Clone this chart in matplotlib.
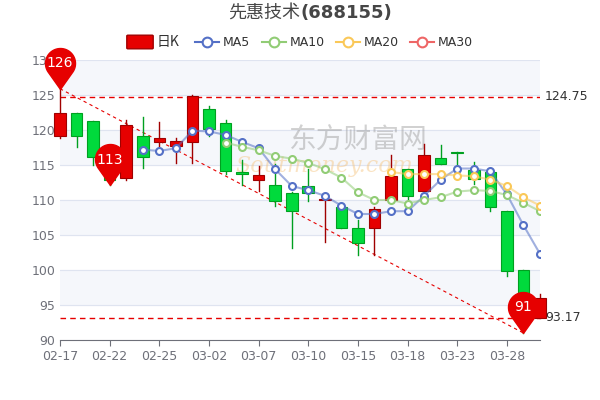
import numpy as np
import matplotlib
matplotlib.use("Agg")
import matplotlib.pyplot as plt
from matplotlib.path import Path
from matplotlib.patches import Rectangle, FancyBboxPatch
from matplotlib.lines import Line2D

dates = ["02-17","02-18","02-21","02-22","02-23","02-24","02-25","02-28","03-01","03-02",
         "03-03","03-04","03-07","03-08","03-09","03-10","03-11","03-14","03-15","03-16",
         "03-17","03-18","03-21","03-22","03-23","03-24","03-25","03-28","03-29","03-30"]
opens  = [119.2,122.4,121.3,114.8,113.1,119.2,118.3,117.7,118.3,123.0,
          121.0,114.0,112.9,112.2,111.0,112.0,110.0,109.0,106.0,106.0,
          110.0,114.4,111.3,116.0,116.8,114.3,114.0,108.4,100.0,93.2]
closes = [122.5,119.2,116.2,112.9,120.7,116.2,118.8,118.4,124.9,120.2,
          114.2,113.7,113.5,109.8,108.5,111.0,110.2,106.0,103.8,108.7,
          113.4,110.6,116.4,115.2,116.7,113.0,109.0,99.9,94.5,96.0]
highs  = [125.9,122.5,121.3,115.0,121.4,121.9,121.1,118.9,125.0,123.5,
          121.5,115.7,114.9,115.2,111.2,114.4,110.4,109.0,107.1,109.0,
          116.4,114.4,118.0,117.9,116.9,115.4,114.3,108.5,100.0,96.6]
lows   = [118.9,117.6,115.0,112.1,112.9,114.6,117.7,115.3,115.3,119.1,
          113.7,112.2,111.3,109.1,103.1,109.9,104.0,106.0,102.1,102.1,
          109.6,110.2,111.3,115.2,114.2,112.3,108.4,99.1,91.0,93.17]
ma5  = [None]*5 + [117.2,117.0,117.4,119.9,119.8,119.3,118.3,117.4,114.4,112.0,
                   111.4,110.6,109.2,108.0,108.0,108.4,108.4,110.6,112.9,114.5,
                   114.5,114.1,110.8,106.4,102.3]
ma10 = [None]*10 + [118.2,117.6,117.1,116.3,115.9,115.3,114.4,113.2,111.1,110.0,
                    110.0,109.5,110.0,110.4,111.2,111.4,111.3,110.7,109.6,108.4]
ma20 = [None]*20 + [114.0,113.7,113.7,113.7,113.5,113.4,112.9,112.0,110.4,109.2]
tick_idx = [0,3,6,9,12,15,18,21,24,27]
high_line, low_line = 124.75, 93.17
pins = [(0,125.9,"126"),(3,112.1,"113"),(28,91.0,"91")]

UP, DOWN = "#e60000", "#00da3c"
fig = plt.figure(figsize=(6,4), dpi=100)
ax = fig.add_axes([60/600, 60/400, 480/600, 280/400])
ax.set_xlim(0, 29)
ax.set_ylim(90, 130)
for k, lo in enumerate(range(90,130,5)):
    if k % 2 == 1:
        ax.axhspan(lo, lo+5, color="#f5f7fb", zorder=0)
ax.set_yticks(range(90,131,5))
ax.yaxis.grid(True, color="#dfe4f0", lw=0.8)
ax.set_axisbelow(True)
for s in ["top","right","left"]:
    ax.spines[s].set_visible(False)
ax.spines["bottom"].set_color("#6e7079")
ax.tick_params(axis="y", length=0, labelsize=9, colors="#6e7079")
ax.set_xticks(tick_idx)
ax.set_xticklabels([dates[i] for i in tick_idx], fontsize=9, color="#6e7079")
ax.tick_params(axis="x", colors="#6e7079", length=4)

# watermark
ax.text(0.62, 0.71, "东方财富网", transform=ax.transAxes, fontsize=20, color="#999999",
        alpha=0.45, ha="center", va="center", family="Noto Sans CJK SC", zorder=1)
ax.text(0.55, 0.62, "Soutmoney.com", transform=ax.transAxes, fontsize=16, color="#f5c27a",
        alpha=0.45, ha="center", va="center", style="italic", family="DejaVu Serif", zorder=1)

w = 0.7
for i in range(len(dates)):
    o, c, h, l = opens[i], closes[i], highs[i], lows[i]
    col = UP if c >= o else DOWN
    ec = "#a00000" if c >= o else "#00a020"
    ax.plot([i,i],[l,h], color=ec if c>=o else "#00a020", lw=1, zorder=3, clip_on=False)
    ax.add_patch(Rectangle((i-w/2, min(o,c)), w, max(abs(c-o),0.15), facecolor=col,
                           edgecolor=ec, lw=0.8, zorder=4, clip_on=False))

def ma_plot(vals, col):
    xs = [i for i,v in enumerate(vals) if v is not None]
    ys = [v for v in vals if v is not None]
    ax.plot(xs, ys, color=col, lw=1.5, alpha=0.55, zorder=5)
    ax.plot(xs, ys, 'o', mfc="white", mec=col, mew=1.5, ms=5, zorder=6)
ma_plot(ma5, "#5470c6")
ma_plot(ma10, "#91cc75")
ma_plot(ma20, "#fac858")

ax.axhline(high_line, color="#e60000", ls=(0,(4,3)), lw=1, zorder=2)
ax.axhline(low_line, color="#e60000", ls=(0,(4,3)), lw=1, zorder=2)
ax.text(1.01, (high_line-90)/40, f"{high_line:.2f}", transform=ax.transAxes, va="center", fontsize=9, color="#333")
ax.text(1.01, (low_line-90)/40, f"{low_line:.2f}", transform=ax.transAxes, va="center", fontsize=9, color="#333")
ax.plot([pins[0][0], pins[2][0]], [pins[0][1], pins[2][1]], color="#e60000", ls=(0,(3,3)), lw=0.8, zorder=2)

# pin marker
d, r = 1.73, 1.0
phi = np.degrees(np.arccos(r/d))
ang = np.radians(np.linspace(-90+phi, 270-phi, 60))
verts = [(0,0)] + [(r*np.cos(a), d + r*np.sin(a)) for a in ang] + [(0,0)]
pin = Path(verts, [Path.MOVETO] + [Path.LINETO]*(len(verts)-2) + [Path.CLOSEPOLY])
for i, y, t in pins:
    ax.plot([i],[y], marker=pin, ms=59, color="#e60000", mec="#e60000", zorder=8, clip_on=False)
    ax.annotate(t, (i,y), xytext=(0,18.5), textcoords="offset points", ha="center",
                va="center", color="white", fontsize=10, zorder=9, annotation_clip=False)

# title
fig.text(0.5, 0.968, "先惠技术", ha="right", va="center", fontsize=13, color="#464646",
         family="Noto Sans CJK SC")
fig.text(0.5, 0.968, "(688155)", ha="left", va="center", fontsize=13, color="#464646",
         weight="bold", family="DejaVu Sans")

# legend
ly = 1 - 42/400
fig.patches.append(FancyBboxPatch((128/600, ly-6/400), 24/600, 12/400, boxstyle="round,pad=0.002",
                   transform=fig.transFigure, facecolor="#e60000", edgecolor="#a00000", lw=1))
fig.text(157/600, ly, "日K", va="center", fontsize=10, color="#333", family="Noto Sans CJK SC")
for x0, lab, col in [(195,"MA5","#5470c6"),(262,"MA10","#91cc75"),(336,"MA20","#fac858"),(410,"MA30","#ee6666")]:
    fig.lines.append(Line2D([x0/600,(x0+24)/600],[ly,ly], transform=fig.transFigure, color=col, lw=1.5))
    fig.lines.append(Line2D([(x0+12)/600],[ly], transform=fig.transFigure, marker='o', ms=7,
                            mfc="white", mec=col, mew=1.5))
    fig.text((x0+28)/600, ly, lab, va="center", fontsize=9, color="#333")

fig.savefig("out.png", dpi=100, facecolor="white")
